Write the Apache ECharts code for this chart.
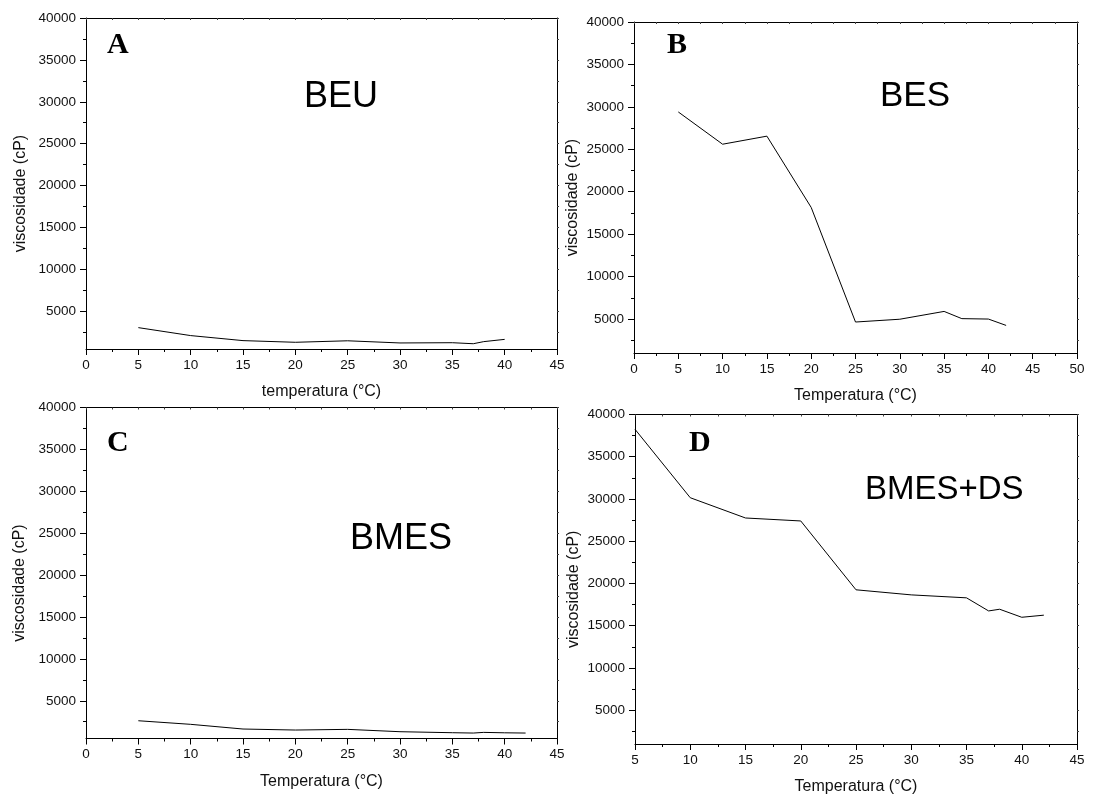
<!DOCTYPE html>
<html>
<head>
<meta charset="utf-8">
<script src="https://cdn.jsdelivr.net/npm/echarts@6/dist/echarts.min.js"></script>
<style>
html,body{margin:0;padding:0;background:#fff;}
#chart{width:1116px;height:796px;}
</style>
</head>
<body>
<div id="chart"></div>
<script>
// ---- data ----
var tempA = [5, 10, 15, 20, 25, 30, 35, 37, 38, 40];
var viscA = [3050, 2100, 1500, 1300, 1480, 1220, 1250, 1130, 1380, 1650];

var tempB = [5, 10, 15, 20, 25, 30, 35, 37, 40, 42];
var viscB = [29400, 25600, 26550, 18150, 4650, 4980, 5900, 5050, 5000, 4250];

var tempC = [5, 10, 15, 20, 25, 30, 35, 37, 38, 40, 42];
var viscC = [2620, 2190, 1630, 1510, 1590, 1310, 1190, 1150, 1230, 1180, 1150];

var tempD = [5, 10, 15, 20, 25, 30, 35, 37, 38, 40, 42];
var viscD = [38250, 30150, 27750, 27400, 19250, 18650, 18300, 16750, 16950, 16000, 16250];

var yMajorTicks = [5000, 10000, 15000, 20000, 25000, 30000, 35000, 40000];
var yMinorTicks = [2500, 7500, 12500, 17500, 22500, 27500, 32500, 37500];
var yAllTicks = [2500, 5000, 7500, 10000, 12500, 15000, 17500, 20000, 22500, 25000, 27500, 30000, 32500, 35000, 37500, 40000];

var panelLetters = ['A', 'B', 'C', 'D'];
var panelNames = ['BEU', 'BES', 'BMES', 'BMES+DS'];
var xTitles = ['temperatura (°C)', 'Temperatura (°C)', 'Temperatura (°C)', 'Temperatura (°C)'];
var yTitle = 'viscosidade (cP)';

// ---- layout ----
var panels = [
  {t: tempA, v: viscA, grid: {left: 86, top: 18, width: 471, height: 331}, xmin: 0, xmax: 45, ymin: 500, ygap: 57,
   letter: [107, 30], name: [304, 79], nameSize: 36},
  {t: tempB, v: viscB, grid: {left: 634, top: 22, width: 443, height: 331}, xmin: 0, xmax: 50, ymin: 1000, ygap: 53,
   letter: [667, 30], name: [880, 79], nameSize: 35},
  {t: tempC, v: viscC, grid: {left: 86, top: 407.5, width: 471, height: 331}, xmin: 0, xmax: 45, ymin: 500, ygap: 58,
   letter: [107, 428], name: [350, 521], nameSize: 36},
  {t: tempD, v: viscD, grid: {left: 635, top: 414.5, width: 442, height: 330.5}, xmin: 5, xmax: 45, ymin: 1000, ygap: 53,
   letter: [689, 428], name: [865, 473], nameSize: 33}
];

var FONT = '"Liberation Sans", Arial, sans-serif';
var axisLine = {show: true, onZero: false, lineStyle: {color: '#000', width: 1}};
var labelStyle = {color: '#111', fontSize: 13.5, fontFamily: FONT};
var plain = function (v) { return String(v); };

var grids = [], xAxes = [], yAxes = [], series = [], graphics = [];

panels.forEach(function (p, i) {
  grids.push(Object.assign({containLabel: false}, p.grid));
  // bottom x axis
  xAxes.push({
    type: 'value', gridIndex: i, position: 'bottom', min: p.xmin, max: p.xmax, interval: 5,
    axisLine: axisLine,
    axisTick: {show: true, inside: false, length: 6, lineStyle: {color: '#000'}},
    minorTick: {show: true, splitNumber: 2, length: 3, lineStyle: {color: '#000'}},
    axisLabel: Object.assign({margin: 9, formatter: plain}, labelStyle),
    splitLine: {show: false},
    name: xTitles[i], nameLocation: 'middle', nameGap: 35,
    nameTextStyle: {color: '#111', fontSize: 16, fontFamily: FONT}
  });
  // top x axis (frame)
  xAxes.push({
    type: 'value', gridIndex: i, position: 'top', min: p.xmin, max: p.xmax, interval: 2.5,
    axisLine: axisLine,
    axisTick: {show: true, inside: true, length: 2, lineStyle: {color: '#444'}},
    axisLabel: {show: false}, splitLine: {show: false}
  });
  var minor = yMinorTicks.filter(function (v) { return v >= p.ymin; });
  var all = yAllTicks.filter(function (v) { return v >= p.ymin; });
  // left y axis with labels
  yAxes.push({
    type: 'value', gridIndex: i, position: 'left', min: p.ymin, max: 40000,
    axisLine: axisLine,
    axisTick: {show: true, inside: false, length: 6, customValues: yMajorTicks, lineStyle: {color: '#000'}},
    axisLabel: Object.assign({margin: 10, customValues: yMajorTicks, formatter: plain}, labelStyle),
    splitLine: {show: false},
    name: yTitle, nameLocation: 'middle', nameGap: p.ygap, nameRotate: 90,
    nameTextStyle: {color: '#111', fontSize: 16, fontFamily: FONT, padding: [0, 20, 0, 0]}
  });
  // left minor ticks
  yAxes.push({
    type: 'value', gridIndex: i, position: 'left', offset: 0, min: p.ymin, max: 40000,
    axisLine: {show: false},
    axisTick: {show: true, inside: false, length: 3, customValues: minor, lineStyle: {color: '#000'}},
    axisLabel: {show: false}, splitLine: {show: false}
  });
  // right y axis (frame)
  yAxes.push({
    type: 'value', gridIndex: i, position: 'right', min: p.ymin, max: 40000,
    axisLine: axisLine,
    axisTick: {show: true, inside: false, length: 2, customValues: all, lineStyle: {color: '#444'}},
    axisLabel: {show: false}, splitLine: {show: false}
  });

  series.push({
    type: 'line', xAxisIndex: 2 * i, yAxisIndex: 3 * i,
    data: p.t.map(function (x, k) { return [x, p.v[k]]; }),
    showSymbol: false, symbol: 'none', silent: true,
    lineStyle: {color: '#000', width: 1}
  });

  graphics.push({
    type: 'text', left: p.letter[0], top: p.letter[1],
    style: {text: panelLetters[i], font: 'bold 30px "Liberation Serif", "Times New Roman", serif', fill: '#000'}
  });
  graphics.push({
    type: 'text', left: p.name[0], top: p.name[1],
    style: {text: panelNames[i], font: p.nameSize + 'px "Liberation Sans", Arial, sans-serif', fill: '#000'}
  });
});

var chart = echarts.init(document.getElementById('chart'), null, {renderer: 'canvas'});
chart.setOption({
  backgroundColor: '#fff',
  animation: false,
  grid: grids,
  xAxis: xAxes,
  yAxis: yAxes,
  series: series,
  graphic: graphics
});
</script>
</body>
</html>
